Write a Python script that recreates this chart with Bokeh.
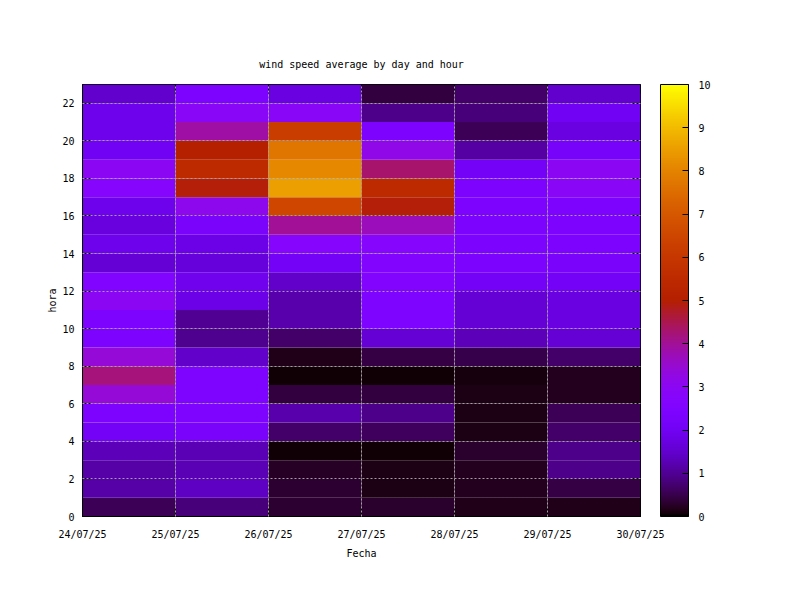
import math
from bokeh.plotting import figure
from bokeh.models import (LinearColorMapper, ColorBar, FixedTicker, Range1d,
                          LinearAxis, ColumnDataSource)
from bokeh.embed import file_html
from bokeh.resources import INLINE

# ---- data ----
day_labels = ["24/07/25", "25/07/25", "26/07/25", "27/07/25", "28/07/25", "29/07/25", "30/07/25"]
hour_ticks = [0, 2, 4, 6, 8, 10, 12, 14, 16, 18, 20, 22]
cbar_ticks = [0, 1, 2, 3, 4, 5, 6, 7, 8, 9, 10]
# wind speed per hour cell (hour 0..22, bottom to top) for each day column
ws_24 = [0.55, 1.15, 1.15, 1.3, 2.1, 2.4, 3.4, 4.2, 3.4, 2.4, 2.4, 3.0, 2.5, 1.6, 1.9, 1.7, 1.9, 2.7, 3.0, 2.0, 1.9, 1.9, 1.5]
ws_25 = [0.8, 1.4, 1.25, 1.25, 2.3, 2.45, 2.45, 2.45, 1.45, 0.95, 1.0, 1.8, 1.95, 1.65, 1.8, 2.25, 3.1, 4.95, 5.5, 5.0, 3.9, 2.9, 2.4]
ws_26 = [0.35, 0.35, 0.25, 0.05, 0.7, 1.2, 0.4, 0.05, 0.18, 0.7, 1.2, 1.2, 1.45, 2.1, 2.7, 4.0, 6.5, 8.55, 8.1, 7.7, 6.2, 2.9, 1.75]
ws_27 = [0.3, 0.15, 0.12, 0.05, 0.6, 0.9, 0.4, 0.05, 0.45, 1.6, 2.45, 2.45, 2.6, 2.6, 2.7, 3.7, 4.95, 5.5, 4.3, 3.2, 2.4, 0.9, 0.4]
ws_28 = [0.18, 0.2, 0.2, 0.28, 0.15, 0.15, 0.15, 0.1, 0.5, 1.3, 1.6, 1.6, 2.1, 2.35, 2.35, 2.35, 2.4, 2.4, 2.1, 1.1, 0.55, 0.8, 0.7]
ws_29 = [0.18, 0.45, 0.9, 0.9, 0.7, 0.55, 0.2, 0.2, 0.7, 1.6, 1.75, 1.75, 2.1, 2.3, 2.4, 2.4, 2.4, 2.9, 3.0, 2.2, 1.75, 2.0, 1.5]
columns = [ws_24, ws_25, ws_26, ws_27, ws_28, ws_29]

# ---- gnuplot-like palette (rgbformulae 7,5,15) ----
def gp_color(t):
    r = math.sqrt(t)
    g = t ** 3
    b = math.sin(2 * math.pi * t)
    c = lambda v: int(round(255 * min(1.0, max(0.0, v))))
    return "#%02x%02x%02x" % (c(r), c(g), c(b))

palette = [gp_color(i / 255) for i in range(256)]
mapper = LinearColorMapper(palette=palette, low=0, high=10)

left, right, bottom, top, val = [], [], [], [], []
for d, col in enumerate(columns):
    for h, v in enumerate(col):
        left.append(d); right.append(d + 1)
        bottom.append(h); top.append(h + 1)
        val.append(v)
src = ColumnDataSource(dict(left=left, right=right, bottom=bottom, top=top, val=val))

FONT = "DejaVu Sans Mono"
FS = "10px"

p = figure(width=792, height=592, output_backend="svg", toolbar_location=None,
           x_range=Range1d(0, 6), y_range=Range1d(0, 23),
           min_border_left=82, min_border_right=152, min_border_top=84, min_border_bottom=76,
           title="wind speed average by day and hour")
p.title.align = "center"
p.title.text_font = FONT
p.title.text_font_size = FS
p.title.text_font_style = "normal"
p.title.text_color = "black"
p.title.standoff = 30

p.quad(left="left", right="right", bottom="bottom", top="top", source=src,
       fill_color={"field": "val", "transform": mapper}, line_color=None)

p.outline_line_color = "black"
p.outline_line_width = 1
p.outline_line_alpha = 1

xt = FixedTicker(ticks=list(range(len(day_labels))))
yt = FixedTicker(ticks=hour_ticks)
p.xaxis.ticker = xt
p.yaxis.ticker = yt
p.xaxis.major_label_overrides = {i: s for i, s in enumerate(day_labels)}
for ax in (p.xaxis[0], p.yaxis[0]):
    ax.major_label_text_font = FONT
    ax.major_label_text_font_size = FS
    ax.major_label_text_color = "black"
    ax.axis_label_text_font = FONT
    ax.axis_label_text_font_size = FS
    ax.axis_label_text_font_style = "normal"
    ax.axis_label_text_color = "black"
    ax.major_tick_in = 9
    ax.major_tick_out = 0
    ax.minor_tick_line_color = None
    ax.axis_line_color = "black"
    ax.major_tick_line_color = "black"
p.xaxis.axis_label = "Fecha"
p.yaxis.axis_label = "hora"
p.xaxis.major_label_standoff = 12
p.yaxis.major_label_standoff = 8
p.xaxis.axis_label_standoff = 5
p.yaxis.axis_label_standoff = 1

for loc, tk, ticks in (("right", yt, hour_ticks), ("above", xt, list(range(len(day_labels))))):
    ax = LinearAxis(ticker=tk, axis_line_color=None,
                    major_tick_in=9, major_tick_out=0, minor_tick_line_color=None,
                    major_label_standoff=0, major_label_text_color=None,
                    major_label_overrides={t: "" for t in ticks})
    p.add_layout(ax, loc)

for g in (p.xgrid[0], p.ygrid[0]):
    g.grid_line_color = "#a0a0a0"
    g.grid_line_dash = "2 2"
    g.grid_line_width = 1
    g.level = "overlay"
p.xgrid.ticker = xt
p.ygrid.ticker = yt

cb = ColorBar(color_mapper=mapper, ticker=FixedTicker(ticks=cbar_ticks),
              width=28, height=432, padding=0, margin=0, location=(20, 0),
              major_label_text_font=FONT, major_label_text_font_size=FS,
              major_label_text_color="black",
              major_tick_in=6, major_tick_out=0, major_tick_line_color="black",
              bar_line_color="black", border_line_color=None,
              background_fill_alpha=0, label_standoff=10)
p.add_layout(cb, "right")

open("out.html", "w").write(file_html(p, INLINE))
